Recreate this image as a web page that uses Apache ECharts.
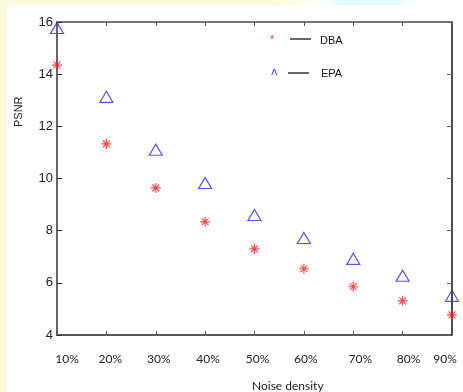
<!DOCTYPE html>
<html>
<head>
<meta charset="utf-8">
<script src="https://cdn.jsdelivr.net/npm/echarts@6/dist/echarts.min.js"></script>
<style>
html,body{margin:0;padding:0;background:#fff;}
#bg{position:absolute;left:0;top:0;width:463px;height:392px;background:#fff;}
#ls{position:absolute;left:0;top:0;width:7px;height:392px;background:#fdfbdc;}
#ts{position:absolute;left:0;top:0;width:463px;height:5px;background:linear-gradient(to right,#fdfbdc 0%,#fdfbdc 60%,#ffffff 70%,#dcfbfc 74%,#e6fcfd 86%,#ffffff 90%);}
#chart{position:absolute;left:0;top:0;width:463px;height:392px;}
</style>
</head>
<body>
<div id="bg"></div><div id="ls"></div><div id="ts"></div>
<div id="chart"></div>
<script>
var categories = ['10%','20%','30%','40%','50%','60%','70%','80%','90%'];
var dbaValues = [14.35, 11.33, 9.64, 8.34, 7.30, 6.54, 5.85, 5.31, 4.77];
var epaValues = [15.77, 13.13, 11.10, 9.83, 8.60, 7.72, 6.92, 6.27, 5.50];
var yTicks = [4, 6, 8, 10, 12, 14, 16];

// small per-label horizontal nudges (label style only)
var labelNudge = [10, 4, 3, 3, 3, 2, 7, 6, -7];
var rich = {};
labelNudge.forEach(function(d, i){
  rich['s' + i] = {
    color: '#222', fontSize: 12, fontFamily: 'Lato, "Open Sans", sans-serif',
    padding: d >= 0 ? [0, 0, 0, 2 * d] : [0, -2 * d, 0, 0]
  };
});

var asterisk = 'path://M0,5L10,5M5,0L5,10M1.6,1.6L8.4,8.4M1.6,8.4L8.4,1.6';
var chart = echarts.init(document.getElementById('chart'), null, {renderer:'canvas'});
var axisCol = '#555';
chart.setOption({
  backgroundColor: 'transparent',
  animation: false,
  grid: {left: 57, right: 11, top: 22, bottom: 57},
  xAxis: [{
    type: 'category', data: categories, boundaryGap: false, position: 'bottom',
    axisLine: {lineStyle: {color: '#222', width: 1.5}},
    axisTick: {inside: true, length: 4, lineStyle: {color: axisCol}},
    axisLabel: {margin: 18, interval: 0,
      formatter: function(v, i){ return '{s' + i + '|' + v + '}'; }, rich: rich},
    splitLine: {show: false}
  }, {
    type: 'category', data: categories, boundaryGap: false, position: 'top',
    axisLine: {lineStyle: {color: '#777', width: 2}},
    axisTick: {inside: true, length: 4, lineStyle: {color: axisCol}},
    axisLabel: {show: false},
    splitLine: {show: false}
  }],
  yAxis: [{
    type: 'value', min: 4, max: 16, interval: 2, position: 'left',
    axisLine: {show: true, lineStyle: {color: '#666', width: 2}},
    axisTick: {show: true, inside: true, length: 5, lineStyle: {color: '#333'}},
    axisLabel: {margin: 4, color: '#222', fontSize: 13, fontFamily: '"Liberation Sans", Arial, sans-serif',
      formatter: function(v){ return yTicks.indexOf(v) >= 0 ? String(v) : ''; }},
    splitLine: {show: false}
  }, {
    type: 'value', min: 4, max: 16, interval: 2, position: 'right',
    axisLine: {show: true, lineStyle: {color: '#111', width: 1.5}},
    axisTick: {show: true, inside: true, length: 5, lineStyle: {color: '#666'}},
    axisLabel: {show: false},
    splitLine: {show: false}
  }],
  series: [{
    name: 'DBA', type: 'scatter', data: dbaValues, xAxisIndex: 0, yAxisIndex: 0,
    symbol: asterisk, symbolSize: 10,
    itemStyle: {color: 'rgba(0,0,0,0)', borderColor: '#ff1a1a', borderWidth: 1.2},
    z: 5
  }, {
    name: 'EPA', type: 'scatter', data: epaValues, xAxisIndex: 0, yAxisIndex: 0,
    symbol: 'triangle', symbolSize: [13, 11],
    itemStyle: {color: 'rgba(0,0,0,0)', borderColor: '#2a2aff', borderWidth: 1.2},
    z: 5
  }],
  graphic: [
    {type: 'text', left: 270, top: 34, style: {text: '*', fill: '#ff4040', font: '11px "Liberation Sans", sans-serif'}},
    {type: 'line', shape: {x1: 290, y1: 39, x2: 311, y2: 39}, style: {stroke: '#000', lineWidth: 1.2}},
    {type: 'text', left: 320, top: 35, style: {text: 'DBA', fill: '#111', font: '11px "Liberation Sans", Arial, sans-serif'}},
    {type: 'text', left: 271, top: 67, style: {text: '\u028C', fill: '#4040ff', font: '11px "DejaVu Sans", sans-serif'}},
    {type: 'line', shape: {x1: 288, y1: 73, x2: 309, y2: 73}, style: {stroke: '#000', lineWidth: 1.2}},
    {type: 'text', left: 321, top: 68, style: {text: 'EPA', fill: '#111', font: '11px "Liberation Sans", Arial, sans-serif'}},
    {type: 'text', left: 252, top: 380, style: {text: 'Noise density', fill: '#222', font: '12px Lato, "Open Sans", sans-serif'}},
    {type: 'text', x: 13, y: 127, rotation: Math.PI / 2, style: {text: 'PSNR', fill: '#222', font: '11px "Liberation Sans", Arial, sans-serif'}}
  ]
});
</script>
</body>
</html>
